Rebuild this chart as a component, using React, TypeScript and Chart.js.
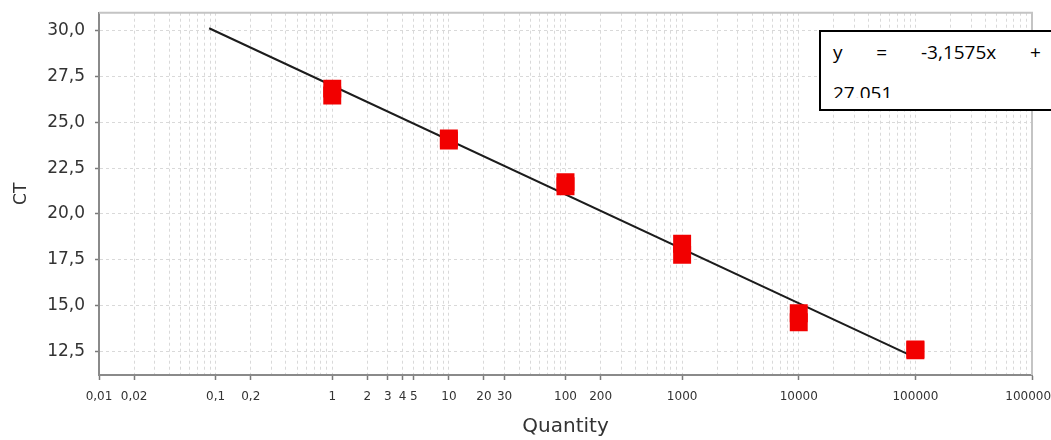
import { useEffect, useRef } from 'react';
import { Chart, registerables } from 'chart.js';

Chart.register(...registerables);

// ---- data ----
const quantities = [1, 10, 100, 1000, 10000, 100000];
const ctReplicateA = [26.85, 24.13, 21.74, 18.37, 14.57, 12.6];
const ctReplicateB = [26.47, 24.02, 21.52, 17.77, 14.08, 12.55];
const fitLineX = [0.088, 100000];
const fitLineY = [30.15, 12.15];
const yTickValues = [12.5, 15, 17.5, 20, 22.5, 25, 27.5, 30];
const xLabeledTicks = [0.01, 0.02, 0.1, 0.2, 1, 2, 3, 4, 5, 10, 20, 30, 100, 200, 1000, 10000, 100000, 1000000];
const xDecadeExponents = [-2, -1, 0, 1, 2, 3, 4, 5];
const xMantissas = [1, 2, 3, 4, 5, 6, 7, 8, 9];
const xMin = 0.01;
const xMax = 1000000;
const yMin = 11.2;
const yMax = 31;
const equationLine1 = ['y', '=', '-3,1575x', '+'];
const equationLine2 = '27.051';
const xAxisTitle = 'Quantity';
const yAxisTitle = 'CT';

const isLabeled = (v: number) => xLabeledTicks.some((t) => Math.abs(t - v) / t < 1e-9);

const gridValues: number[] = [];
xDecadeExponents.forEach((e) => {
  xMantissas.forEach((m) => gridValues.push(Number((m * Math.pow(10, e)).toPrecision(4))));
});
gridValues.push(xMax);

const framePlugin = {
  id: 'plotFrame',
  beforeDatasetsDraw(chart: any) {
    const { ctx, chartArea } = chart;
    ctx.save();
    ctx.strokeStyle = '#c4c4c4';
    ctx.lineWidth = 2;
    ctx.beginPath();
    ctx.moveTo(chartArea.left, chartArea.top);
    ctx.lineTo(chartArea.right, chartArea.top);
    ctx.lineTo(chartArea.right, chartArea.bottom);
    ctx.stroke();
    ctx.restore();
  },
};

export default function App() {
  const canvasRef = useRef<HTMLCanvasElement | null>(null);

  useEffect(() => {
    if (!canvasRef.current) return;
    const chart = new Chart(canvasRef.current, {
      type: 'scatter',
      data: {
        datasets: [
          {
            label: 'fit',
            data: fitLineX.map((x, i) => ({ x, y: fitLineY[i] })),
            showLine: true,
            borderColor: '#1c1c1c',
            borderWidth: 2,
            pointRadius: 0,
            order: 2,
          },
          {
            label: 'rep A',
            data: quantities.map((x, i) => ({ x, y: ctReplicateA[i] })),
            pointStyle: 'rect',
            pointRadius: 12.7,
            backgroundColor: '#f20000',
            borderWidth: 0,
            order: 1,
          },
          {
            label: 'rep B',
            data: quantities.map((x, i) => ({ x, y: ctReplicateB[i] })),
            pointStyle: 'rect',
            pointRadius: 12.7,
            backgroundColor: '#f20000',
            borderWidth: 0,
            order: 1,
          },
        ],
      },
      options: {
        animation: false,
        responsive: false,
        events: [],
        layout: { padding: { top: 10, right: 19, left: 0, bottom: 0 } },
        plugins: {
          legend: { display: false },
          tooltip: { enabled: false },
        },
        scales: {
          x: {
            type: 'logarithmic',
            min: xMin,
            max: xMax,
            afterBuildTicks: (scale: any) => {
              scale.ticks = gridValues.map((v) => ({ value: v }));
            },
            afterFit: (scale: any) => {
              scale.height = 65;
              scale.paddingLeft = 0;
              scale.paddingRight = 0;
            },
            ticks: {
              autoSkip: false,
              maxRotation: 0,
              minRotation: 0,
              padding: 10,
              color: '#333',
              font: { family: 'DejaVu Sans', size: 12 },
              callback: (value: any) => {
                const v = Number(value);
                return isLabeled(v) ? String(v).replace('.', ',') : '';
              },
            },
            grid: {
              color: '#d9d9d9',
              lineWidth: 1,
              tickLength: 5,
              tickWidth: 1.5,
              tickColor: (ctx: any) => (ctx.tick && isLabeled(ctx.tick.value) ? '#7a7a7a' : 'rgba(0,0,0,0)'),
            },
            border: { display: true, color: '#8a8a8a', width: 2, dash: [3, 3] },
            title: {
              display: true,
              text: xAxisTitle,
              color: '#333',
              font: { family: 'DejaVu Sans', size: 20 },
              padding: { top: 0, bottom: 1 },
            },
          },
          y: {
            type: 'linear',
            min: yMin,
            max: yMax,
            afterBuildTicks: (scale: any) => {
              scale.ticks = yTickValues.map((v) => ({ value: v }));
            },
            afterFit: (scale: any) => {
              scale.width = 99;
              scale.paddingTop = 0;
              scale.paddingBottom = 0;
            },
            ticks: {
              padding: 10,
              color: '#333',
              font: { family: 'DejaVu Sans', size: 17 },
              callback: (value: any) => Number(value).toFixed(1).replace('.', ','),
            },
            grid: {
              color: '#d9d9d9',
              lineWidth: 1,
              tickLength: 4,
              tickWidth: 1.5,
              tickColor: '#7a7a7a',
            },
            border: { display: true, color: '#8a8a8a', width: 2, dash: [3, 3] },
            title: {
              display: true,
              text: yAxisTitle,
              color: '#333',
              font: { family: 'DejaVu Sans', size: 17 },
              padding: { top: 11, bottom: 0 },
            },
          },
        },
      },
      plugins: [framePlugin],
    } as any);
    return () => chart.destroy();
  }, []);

  return (
    <div
      style={{
        position: 'fixed',
        left: 0,
        top: 0,
        width: 1051,
        height: 440,
        overflow: 'hidden',
        background: '#fff',
      }}
    >
      <canvas ref={canvasRef} width={1051} height={440} style={{ display: 'block', width: 1051, height: 440 }} />
      <div
        style={{
          position: 'absolute',
          left: 819,
          top: 30,
          width: 300,
          height: 77,
          border: '2px solid #000',
          background: '#fff',
        }}
      >
        <div style={{ position: 'absolute', left: 0, top: 0, right: 0, height: 66, overflow: 'hidden' }}>
          <div
            style={{
              position: 'absolute',
              left: 12,
              top: 0,
              width: 208,
              height: 41,
              lineHeight: '41px',
              fontFamily: '"Open Sans", sans-serif',
              fontSize: 19,
              color: '#000',
              display: 'flex',
              justifyContent: 'space-between',
              whiteSpace: 'nowrap',
            }}
          >
            {equationLine1.map((w, i) => (
              <span key={i}>{w}</span>
            ))}
          </div>
          <div
            style={{
              position: 'absolute',
              left: 12,
              top: 41,
              height: 41,
              lineHeight: '41px',
              fontFamily: '"Open Sans", sans-serif',
              fontSize: 19,
              color: '#000',
              whiteSpace: 'nowrap',
            }}
          >
            {equationLine2}
          </div>
        </div>
      </div>
    </div>
  );
}
